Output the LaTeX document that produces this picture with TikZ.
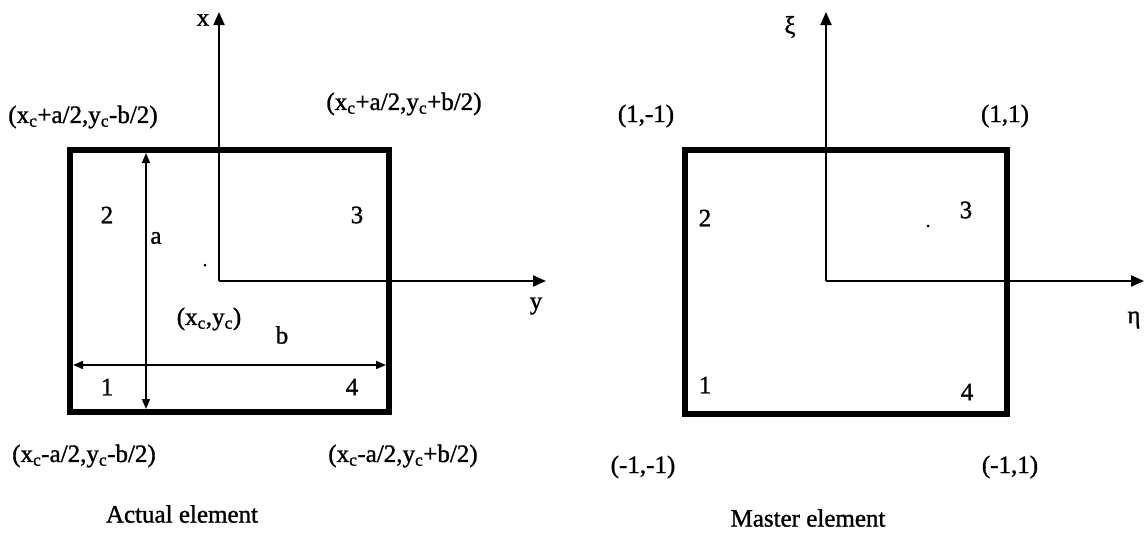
\documentclass[tikz,border=0pt]{standalone}
\usepackage{fontspec}
\setmainfont[FakeBold=1.2]{Liberation Serif}
\usetikzlibrary{arrows.meta}
\begin{document}
\begin{tikzpicture}[x=1pt,y=-1pt,
  lbl/.style={inner sep=0pt, font=\fontsize{25}{30}\selectfont},
  elem/.style={line width=6pt, line join=miter},
  axisline/.style={line width=2.2pt, -{Triangle[length=13pt,width=11pt]}},
  dimline/.style={line width=1.5pt, {Triangle[length=10pt,width=8pt]}-{Triangle[length=10pt,width=8pt]}},
  speck/.style={circle, fill=black, inner sep=0pt, minimum size=3pt},
]
\useasboundingbox (0,0) rectangle (1144,549);
\fill[white] (0,0) rectangle (1144,549);

% ---------- Actual element ----------
\coordinate (A1) at (70,412);
\coordinate (A3) at (389,150);
\draw[elem] (A1) rectangle (A3);

\coordinate (AO) at (219,281);
\coordinate (AXt) at (219,12);
\coordinate (AYt) at (546,281);
\draw[axisline] (AO) -- (AXt);
\draw[axisline] (AO) -- (AYt);

\coordinate (Aab) at (146,409);
\coordinate (Aat) at (146,153);
\draw[dimline] (Aab) -- (Aat);
\coordinate (Abl) at (73,365);
\coordinate (Abr) at (386,365);
\draw[dimline] (Abl) -- (Abr);

\node[lbl] (lx) at (203,20) {x};
\node[lbl] (ly) at (536,306) {y};
\node[lbl] (ltl) at (83,117) {(x\textsubscript{c}+a/2,y\textsubscript{c}-b/2)};
\node[lbl] (ltr) at (404,104) {(x\textsubscript{c}+a/2,y\textsubscript{c}+b/2)};
\node[lbl] (lbl1) at (84,456) {(x\textsubscript{c}-a/2,y\textsubscript{c}-b/2)};
\node[lbl] (lbr) at (403,456) {(x\textsubscript{c}-a/2,y\textsubscript{c}+b/2)};
\node[lbl] (n2) at (107,215) {2};
\node[lbl] (n3) at (357,215) {3};
\node[lbl] (n1) at (107,387) {1};
\node[lbl] (n4) at (352,387) {4};
\node[lbl] (la) at (156,238) {a};
\node[lbl] (lb) at (282,335) {b};
\node[lbl] (lc) at (209,319) {(x\textsubscript{c},y\textsubscript{c})};
\node[speck] (ac) at (205,265) {};
\node[lbl] (ta) at (182,514) {Actual element};

% ---------- Master element ----------
\coordinate (M1) at (685,414);
\coordinate (M3) at (1007,150);
\draw[elem] (M1) rectangle (M3);

\coordinate (MO) at (826,281);
\coordinate (MXt) at (826,12);
\coordinate (MYt) at (1144,281);
\draw[axisline] (MO) -- (MXt);
\draw[axisline] (MO) -- (MYt);

\node[lbl] (lxi) at (790,27) {ξ};
\node[lbl] (leta) at (1134,320) {η};
\node[lbl] (mtl) at (646,116) {(1,-1)};
\node[lbl] (mtr) at (1005,116) {(1,1)};
\node[lbl] (mbl) at (643,467) {(-1,-1)};
\node[lbl] (mbr) at (1010,467) {(-1,1)};
\node[lbl] (m2) at (705,218) {2};
\node[lbl] (m3) at (966,210) {3};
\node[lbl] (m1) at (705,385) {1};
\node[lbl] (m4) at (967,392) {4};
\node[speck] (mc) at (928,226) {};
\node[lbl] (tm) at (808,518) {Master element};
\end{tikzpicture}
\end{document}
